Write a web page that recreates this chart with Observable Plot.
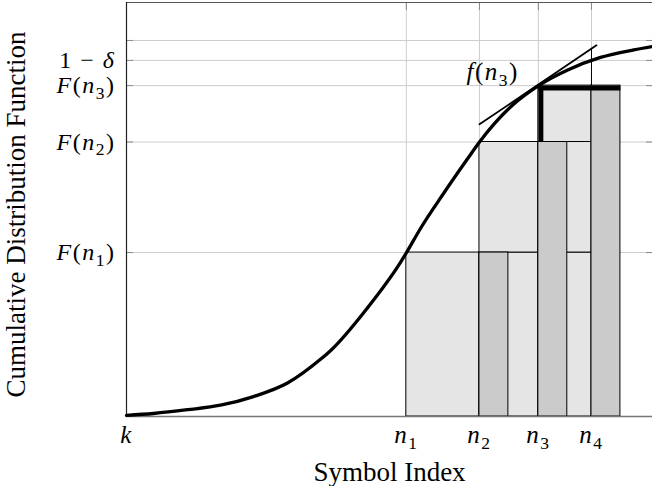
<!DOCTYPE html>
<html>
<head>
<meta charset="utf-8">
<script src="https://cdn.jsdelivr.net/npm/d3@7"></script>
<script src="https://cdn.jsdelivr.net/npm/@observablehq/plot@0.6"></script>
<style>
  html, body { margin: 0; padding: 0; background: #fff; overflow: hidden; }
  #chart svg { display: block; }
  #chart text { font-family: "Liberation Serif", "Times New Roman", serif; }
</style>
</head>
<body>
<div id="chart"></div>
<script>
// ---- data ----
const xTickValues = [0, 5.32, 6.71, 7.83, 8.84];
const xTickLabels = ["k", "n_1", "n_2", "n_3", "n_4"];
const yTickValues = [0.436, 0.730, 0.880, 0.947, 1.0];
const yTickLabels = ["F(n_1)", "F(n_2)", "F(n_3)", "1 − δ", ""];
const barWidth = 0.55;

const cdfX = [0, 0.513, 1.16, 1.787, 2.414, 3.061, 3.688, 3.878, 4.576, 5.209, 5.323, 5.589, 6.027, 6.477, 6.711, 7.30, 7.833, 8.378, 9.011, 9.644, 10.0];
const cdfY = [0.003, 0.008, 0.018, 0.030, 0.053, 0.089, 0.152, 0.175, 0.288, 0.410, 0.436, 0.500, 0.593, 0.684, 0.730, 0.823, 0.880, 0.921, 0.955, 0.975, 0.984];

const tangentX = [6.711, 8.935];
const tangentY = [0.777, 0.987];
const tangentAtN4 = 0.979;

const annotText = ["f(n_3)"];
const annotX = [6.96];
const annotY = [0.915];

const xLabel = "Symbol Index";
const yLabel = "Cumulative Distribution Function";
const yMax = 1.101;
const xMax = 10;

// ---- derived tables ----
const [k, n1, n2, n3, n4] = xTickValues;
const [F1, F2, F3] = yTickValues;
const lightRects = [
  {x1: n1, x2: n2, y1: 0, y2: F1},
  {x1: n2, x2: n3, y1: 0, y2: F1},
  {x1: n2, x2: n3, y1: F1, y2: F2},
  {x1: n3, x2: n4, y1: 0, y2: F1},
  {x1: n3, x2: n4, y1: F1, y2: F2},
  {x1: n3, x2: n4, y1: F2, y2: F3}
];
const darkRects = [
  {x1: n2, x2: n2 + barWidth, y1: 0, y2: F1},
  {x1: n3, x2: n3 + barWidth, y1: 0, y2: F2},
  {x1: n4, x2: n4 + barWidth, y1: 0, y2: F3}
];
const cdf = cdfX.map((x, i) => ({x, y: cdfY[i]}));
const tangent = tangentX.map((x, i) => ({x, y: tangentY[i]}));
const annots = annotText.map((t, i) => ({t, x: annotX[i], y: annotY[i]}));
const xLab = new Map(xTickValues.map((v, i) => [v, xTickLabels[i]]));
const yLab = new Map(yTickValues.map((v, i) => [v, yTickLabels[i]]));

const FONT = "Liberation Serif";
const gridC = "#cccccc";
const tickC = "#8a8a8a";

const chart = Plot.plot({
  width: 652,
  height: 486,
  marginLeft: 126,
  marginRight: 0,
  marginTop: 2,
  marginBottom: 70,
  x: {domain: [0, xMax]},
  y: {domain: [0, yMax]},
  style: {fontFamily: FONT, fontSize: "26px", background: "#fff", color: "#000"},
  marks: [
    Plot.ruleX(xTickValues.slice(1), {stroke: gridC, strokeWidth: 1}),
    Plot.ruleY(yTickValues, {stroke: gridC, strokeWidth: 1}),
    // inward tick marks on all sides
    Plot.axisY({anchor: "left", ticks: yTickValues, tickSize: -7, tickFormat: () => "", stroke: tickC, label: null}),
    Plot.axisY({anchor: "right", ticks: yTickValues, tickSize: -7, tickFormat: () => "", stroke: tickC, label: null}),
    Plot.axisX({anchor: "top", ticks: xTickValues.slice(1), tickSize: -7, tickFormat: () => "", stroke: tickC, label: null}),
    Plot.axisX({anchor: "bottom", ticks: xTickValues.slice(1), tickSize: -7, tickFormat: () => "", stroke: tickC, label: null}),
    // tick labels
    Plot.axisY({anchor: "left", ticks: yTickValues, tickSize: 0, tickPadding: 11, tickFormat: d => yLab.get(d), label: null, fontSize: 24, fontFamily: FONT}),
    Plot.axisX({anchor: "bottom", ticks: xTickValues, tickSize: 0, tickPadding: 9, tickFormat: d => xLab.get(d), label: null, fontSize: 25, fontFamily: FONT}),
    // rectangles
    Plot.rect(lightRects, {x1: "x1", x2: "x2", y1: "y1", y2: "y2", fill: "#e5e5e5", stroke: "#000", strokeWidth: 1}),
    Plot.rect(darkRects, {x1: "x1", x2: "x2", y1: "y1", y2: "y2", fill: "#cbcbcb", stroke: "#000", strokeWidth: 1}),
    // frame
    Plot.ruleY([0], {stroke: "#777", strokeWidth: 1.6}),
    Plot.ruleY([yMax], {stroke: "#555", strokeWidth: 1}),
    Plot.ruleX([0], {stroke: "#222", strokeWidth: 1.2}),
    // drop from tangent at n4
    Plot.ruleX([n4], {y1: F3, y2: tangentAtN4, stroke: "#000", strokeWidth: 1}),
    // thick L
    Plot.line([{x: n3, y: F2}, {x: n3, y: F3}], {x: "x", y: "y", stroke: "#000", strokeWidth: 5, strokeLinecap: "butt", dx: 2.5}),
    Plot.line([{x: n3, y: F3}, {x: n4 + barWidth, y: F3}], {x: "x", y: "y", stroke: "#000", strokeWidth: 5, strokeLinecap: "butt", dy: 2.5}),
    // curve and tangent
    Plot.line(cdf, {x: "x", y: "y", curve: "monotone-x", stroke: "#000", strokeWidth: 3.3}),
    Plot.line(tangent, {x: "x", y: "y", stroke: "#000", strokeWidth: 1.8}),
    Plot.text(annots, {x: "x", y: "y", text: "t", fontSize: 25, fontFamily: FONT, textAnchor: "middle", lineAnchor: "middle"}),
    // axis titles
    Plot.text([xLabel], {frameAnchor: "bottom", text: d => d, dy: 56, fontSize: 27, fontFamily: FONT, textAnchor: "middle", lineAnchor: "middle"}),
    Plot.text([yLabel], {frameAnchor: "left", text: d => d, rotate: -90, dx: -110, dy: 5, fontSize: 27, fontFamily: FONT, textAnchor: "middle", lineAnchor: "middle"})
  ]
});

// ---- render math labels with italic letters and subscripts ----
const mathSet = new Set([...xTickLabels, ...yTickLabels, ...annotText].filter(s => s));
const NS = "http://www.w3.org/2000/svg";
function mathify(el, src) {
  const size = parseFloat(el.getAttribute("font-size")) || 25;
  while (el.firstChild) el.removeChild(el.firstChild);
  el.setAttribute("letter-spacing", "1.5");
  let pendingDy = 0;
  for (let i = 0; i < src.length; i++) {
    let c = src[i];
    const ts = document.createElementNS(NS, "tspan");
    ts.setAttribute("font-family", FONT);
    if (c === "_") {
      c = src[++i];
      ts.setAttribute("font-size", (size * 0.7).toFixed(1));
      ts.setAttribute("dy", (size * 0.22 + pendingDy).toFixed(1));
      ts.setAttribute("font-style", "normal");
      pendingDy = -size * 0.22;
    } else {
      if (pendingDy) { ts.setAttribute("dy", pendingDy.toFixed(1)); pendingDy = 0; }
      ts.setAttribute("font-style", /[A-Za-zδ]/.test(c) ? "italic" : "normal");
    }
    ts.textContent = c;
    el.appendChild(ts);
  }
}
chart.querySelectorAll("text").forEach(t => {
  const s = t.textContent;
  if (mathSet.has(s)) mathify(t, s);
});

document.getElementById("chart").appendChild(chart);
</script>
</body>
</html>
